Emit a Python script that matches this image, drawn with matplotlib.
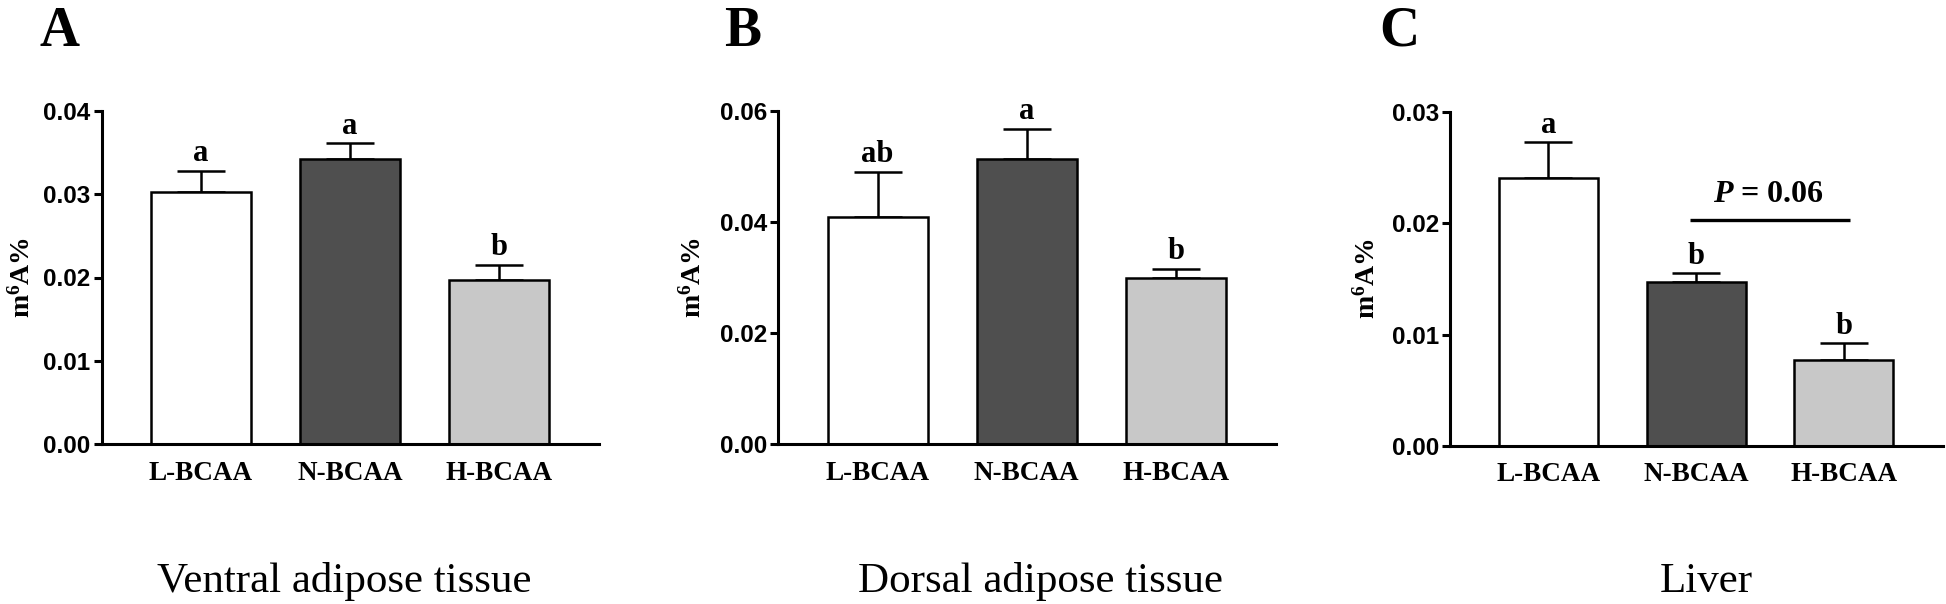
import matplotlib
matplotlib.use("Agg")
import matplotlib.pyplot as plt
from matplotlib.ticker import FormatStrFormatter

groups = ["L-BCAA", "N-BCAA", "H-BCAA"]
bar_colors = ["#ffffff", "#4f4f4f", "#c8c8c8"]

ventral_mean = [0.0302, 0.0342, 0.0197]
ventral_sem = [0.0026, 0.0019, 0.0018]
ventral_letters = ["a", "a", "b"]

dorsal_mean = [0.0409, 0.0513, 0.0300]
dorsal_sem = [0.0081, 0.0054, 0.0015]
dorsal_letters = ["ab", "a", "b"]

liver_mean = [0.0241, 0.0147, 0.0077]
liver_sem = [0.0032, 0.0008, 0.0015]
liver_letters = ["a", "b", "b"]

plt.rcParams["mathtext.fontset"] = "custom"
plt.rcParams["mathtext.rm"] = "Liberation Serif:bold"
plt.rcParams["mathtext.it"] = "Liberation Serif:italic:bold"
plt.rcParams["mathtext.bf"] = "Liberation Serif:bold"

SERIF = "Liberation Serif"
SANS = "Liberation Sans"

fig = plt.figure(figsize=(19.46, 6.04), dpi=100)
W, H = 1946, 604

# axes boxes in pixels: left, right, top (ymax), bottom (y=0)
panels = [
    dict(box=(101.7, 599, 110.7, 444.3), mean=ventral_mean, sem=ventral_sem,
         letters=ventral_letters, ymax=0.04, step=0.01, tag="A", tag_x=39,
         title="Ventral adipose tissue", title_x=344, ylab_x=22),
    dict(box=(778.3, 1276, 110.7, 444.3), mean=dorsal_mean, sem=dorsal_sem,
         letters=dorsal_letters, ymax=0.06, step=0.02, tag="B", tag_x=724,
         title="Dorsal adipose tissue", title_x=1040, ylab_x=693),
    dict(box=(1450, 1943, 112.3, 445.7), mean=liver_mean, sem=liver_sem,
         letters=liver_letters, ymax=0.03, step=0.01, tag="C", tag_x=1379,
         title="Liver", title_x=1706, ylab_x=1367),
]

axes = []
for p in panels:
    l, r, t, b = p["box"]
    ax = fig.add_axes([l / W, 1 - b / H, (r - l) / W, (b - t) / H])
    axes.append(ax)
    x = range(len(groups))
    ax.bar(x, p["mean"], width=0.67, color=bar_colors, edgecolor="black",
           linewidth=1.8, zorder=2)
    ax.errorbar(x, p["mean"], yerr=[[0] * 3, p["sem"]], fmt="none",
                ecolor="black", elinewidth=1.8, capsize=17.5, capthick=1.8, zorder=1)
    for xi, m, s, let in zip(x, p["mean"], p["sem"], p["letters"]):
        ax.annotate(let, (xi, m + s), xytext=(0, 7), textcoords="offset points",
                    ha="center", va="baseline", fontsize=22, fontweight="bold",
                    family=SERIF)
    ax.set_xlim(-0.665, 2.67)
    ax.set_ylim(0, p["ymax"])
    n = int(round(p["ymax"] / p["step"]))
    ax.set_yticks([i * p["step"] for i in range(n + 1)])
    ax.yaxis.set_major_formatter(FormatStrFormatter("%.2f"))
    ax.set_xticks(list(x))
    ax.set_xticklabels(groups, fontsize=19.5, fontweight="bold", family=SERIF)
    ax.tick_params(axis="x", length=0, pad=12)
    ax.tick_params(axis="y", length=6, width=2.2, pad=2, labelsize=17.5)
    for lab in ax.get_yticklabels():
        lab.set_fontweight("bold")
        lab.set_family(SANS)
    for side in ("top", "right"):
        ax.spines[side].set_visible(False)
    for side in ("left", "bottom"):
        ax.spines[side].set_linewidth(2.2)
    fig.text(p["ylab_x"] / W, 1 - (t + b) / 2 / H, r"m$^{\mathrm{6}}$A%",
             rotation=90, ha="center", va="center", fontsize=20,
             fontweight="bold", family=SERIF)
    fig.text(p["tag_x"] / W, 1 - 46 / H, p["tag"], fontsize=40, fontweight="bold",
             family=SERIF, ha="left", va="baseline")
    fig.text(p["title_x"] / W, 1 - 591.7 / H, p["title"], fontsize=31,
             family=SERIF, ha="center", va="baseline")

# P-value bracket on the liver panel
axc = axes[2]
axc.plot([0.96, 2.04], [0.0203, 0.0203], color="black", lw=2.4, solid_capstyle="butt")
axc.annotate(r"$\mathit{P}$ = 0.06", (1.49, 0.0203), xytext=(0, 13),
             textcoords="offset points", ha="center", va="baseline",
             fontsize=23, fontweight="bold", family=SERIF)

fig.savefig("out.png", dpi=100, facecolor="white")
